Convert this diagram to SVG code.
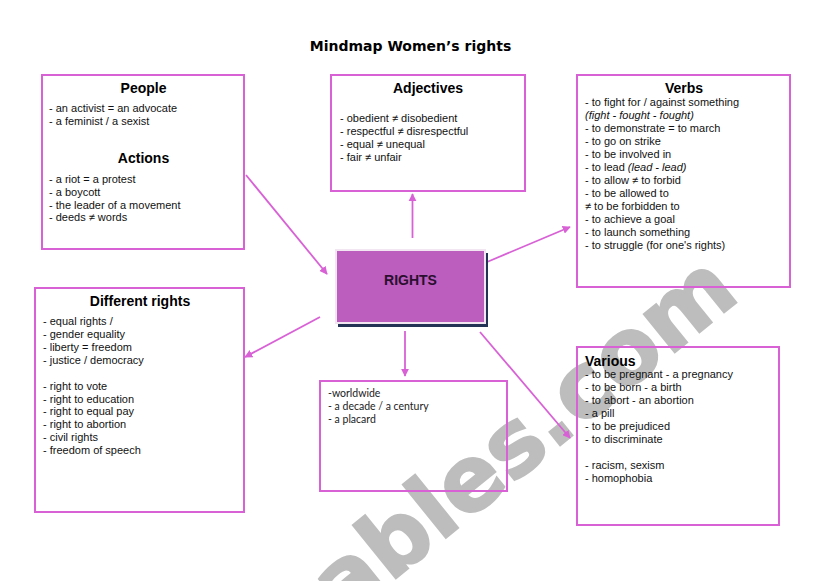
<svg xmlns="http://www.w3.org/2000/svg" width="821" height="581" viewBox="0 0 821 581">
<defs>
<style>
.box{fill:none;stroke:#d861d6;stroke-width:2}
.t{font-family:"Liberation Sans",Arial,sans-serif;font-size:11px;fill:#111}
.c{font-family:Lato,"Open Sans",sans-serif;font-size:10.5px;fill:#222}
.h{font-family:"Liberation Sans",Arial,sans-serif;font-size:14px;font-weight:bold;fill:#000}
.title{font-family:"DejaVu Sans",Verdana,sans-serif;font-size:14px;font-weight:bold;fill:#000}
.i{font-style:italic}
.conn line{stroke:#d861d6;stroke-width:1.8;marker-end:url(#arr)}
.wm{font-family:"DejaVu Sans",Verdana,sans-serif;font-weight:bold;font-size:90px;fill:#bdbdbd;stroke:#bdbdbd;stroke-width:2}
</style>
<marker id="arr" viewBox="0 0 10 10" refX="9" refY="5" markerWidth="4.5" markerHeight="4.5" orient="auto" markerUnits="strokeWidth">
<path d="M0,0 L10,5 L0,10 z" fill="#d861d6"/>
</marker>
</defs>
<rect width="821" height="581" fill="#fff"/>
<g id="watermark">
<text class="wm" x="742" y="298" text-anchor="end" transform="rotate(-39 742 298)">eslprintables.com</text>
</g>
<text class="title" x="410.5" y="51" text-anchor="middle">Mindmap Women’s rights</text>

<g class="conn" id="connectors">
<line x1="246" y1="175" x2="327" y2="274"/>
<line x1="412.5" y1="238" x2="412.5" y2="194"/>
<line x1="487" y1="262" x2="570" y2="227"/>
<line x1="320" y1="317" x2="245" y2="357"/>
<line x1="405" y1="331" x2="405" y2="376"/>
<line x1="480" y1="332" x2="570" y2="438"/>
</g>

<g id="people">
<rect class="box" x="42" y="75" width="202" height="174"/>
<text class="h" x="143.5" y="93" text-anchor="middle">People</text>
<text class="t" x="49" y="112">- an activist = an advocate</text>
<text class="t" x="49" y="125">- a feminist / a sexist</text>
<text class="h" x="143.5" y="163" text-anchor="middle">Actions</text>
<text class="t" x="49" y="183">- a riot = a protest</text>
<text class="t" x="49" y="196">- a boycott</text>
<text class="t" x="49" y="208.5">- the leader of a movement</text>
<text class="t" x="49" y="221">- deeds ≠ words</text>
</g>

<g id="adjectives">
<rect class="box" x="331" y="75" width="194" height="116"/>
<text class="h" x="428" y="93" text-anchor="middle">Adjectives</text>
<text class="t" x="340" y="122">- obedient ≠ disobedient</text>
<text class="t" x="340" y="135">- respectful ≠ disrespectful</text>
<text class="t" x="340" y="148">- equal ≠ unequal</text>
<text class="t" x="340" y="161">- fair ≠ unfair</text>
</g>

<g id="verbs">
<rect class="box" x="577" y="75" width="213" height="212"/>
<text class="h" x="684" y="92.5" text-anchor="middle">Verbs</text>
<text class="t" x="585" y="106">- to fight for / against something</text>
<text class="t i" x="585" y="119">(fight - fought - fought)</text>
<text class="t" x="585" y="132">- to demonstrate = to march</text>
<text class="t" x="585" y="145">- to go on strike</text>
<text class="t" x="585" y="158">- to be involved in</text>
<text class="t" x="585" y="171">- to lead <tspan class="i">(lead - lead)</tspan></text>
<text class="t" x="585" y="184">- to allow ≠ to forbid</text>
<text class="t" x="585" y="197">- to be allowed to</text>
<text class="t" x="585" y="210">≠ to be forbidden to</text>
<text class="t" x="585" y="223">- to achieve a goal</text>
<text class="t" x="585" y="236">- to launch something</text>
<text class="t" x="585" y="249">- to struggle (for one's rights)</text>
</g>

<g id="rights">
<rect x="338" y="253" width="150" height="74" fill="#223355"/>
<rect x="335" y="249" width="151" height="75" fill="#f2e6f2"/>
<rect x="337" y="251" width="147" height="71" fill="#bb5ebe"/>
<text class="h" x="410.5" y="284.5" text-anchor="middle" style="fill:#2a0f2e">RIGHTS</text>
</g>

<g id="different-rights">
<rect class="box" x="35" y="288" width="209" height="224"/>
<text class="h" x="140" y="306" text-anchor="middle">Different rights</text>
<text class="t" x="43" y="325">- equal rights /</text>
<text class="t" x="43" y="338">- gender equality</text>
<text class="t" x="43" y="351">- liberty = freedom</text>
<text class="t" x="43" y="363.5">- justice / democracy</text>
<text class="t" x="43" y="389.5">- right to vote</text>
<text class="t" x="43" y="402.5">- right to education</text>
<text class="t" x="43" y="415">- right to equal pay</text>
<text class="t" x="43" y="428">- right to abortion</text>
<text class="t" x="43" y="441">- civil rights</text>
<text class="t" x="43" y="454">- freedom of speech</text>
</g>

<g id="misc">
<rect class="box" x="320" y="381" width="187" height="110"/>
<text class="c" x="328" y="397">-worldwide</text>
<text class="c" x="328" y="409.5">- a decade / a century</text>
<text class="c" x="328" y="422.5">- a placard</text>
</g>

<g id="various">
<rect class="box" x="577" y="347" width="202" height="178"/>
<text class="h" x="585" y="366">Various</text>
<text class="t" x="585" y="378">- to be pregnant - a pregnancy</text>
<text class="t" x="585" y="391">- to be born - a birth</text>
<text class="t" x="585" y="404">- to abort - an abortion</text>
<text class="t" x="585" y="417">- a pill</text>
<text class="t" x="585" y="430">- to be prejudiced</text>
<text class="t" x="585" y="443">- to discriminate</text>
<text class="t" x="585" y="469">- racism, sexism</text>
<text class="t" x="585" y="482">- homophobia</text>
</g>
</svg>
